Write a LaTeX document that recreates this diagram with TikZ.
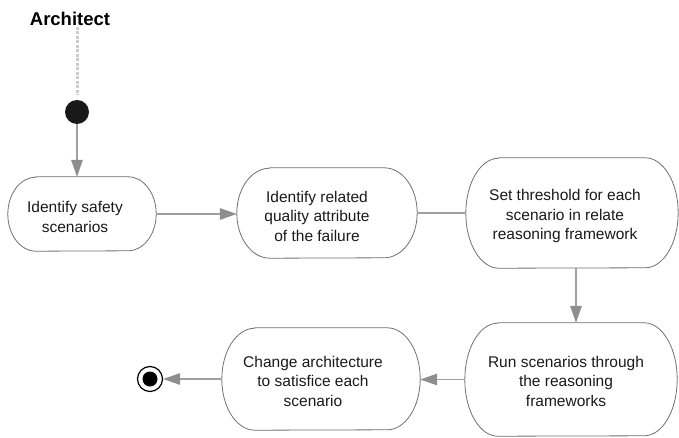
\documentclass[tikz,border=0pt]{standalone}
\usepackage{fontspec}
\setmainfont{Liberation Sans}
\usetikzlibrary{arrows.meta,calc}
\definecolor{lncol}{HTML}{A0A0A0}
\definecolor{tipcol}{HTML}{8E8E8E}
\definecolor{outcol}{HTML}{707070}
\definecolor{lanecol}{HTML}{CCCCCC}
\tikzset{
  box/.style={rectangle, draw=none, inner sep=0pt},
  outl/.style={draw=outcol, line width=0.8pt},
  txt/.style={align=center, inner sep=0pt, font=\fontsize{15.5pt}{19.5pt}\selectfont, text=black!90},
  flow/.style={draw=lncol, line width=1.3pt},
  flowarr/.style={flow, -{Triangle[length=17pt,width=11.5pt,color=tipcol]}},
  lanedash/.style={draw=lanecol, line width=3pt, dash pattern=on 3pt off 1.5pt},
}
\newcommand\stadium[3]{%
  \draw[outl] ([xshift=#2]#1.north west) -- ([xshift=-#2]#1.north east)
     arc[start angle=90,end angle=-90,x radius=#2,y radius=#3]
     -- ([xshift=#2]#1.south west)
     arc[start angle=270,end angle=90,x radius=#2,y radius=#3] -- cycle;}
\begin{document}
\begin{tikzpicture}[x=1pt,y=1pt]
\useasboundingbox (0,0) rectangle (679,437);
% swimlane header
\node[font=\bfseries\fontsize{18.5pt}{22pt}\selectfont, inner sep=0pt] (lane) at (70,418) {Architect};
\coordinate (lanebot) at (77,410);
% start
\node[circle, fill=black!90, inner sep=0pt, minimum size=24pt] (start) at (77,325) {};
\draw[lanedash] (lanebot) -- ([yshift=5pt]start.north);
% activity shapes
\node[box, minimum width=148pt, minimum height=74pt] (n1) at (82,223) {};
\node[box, minimum width=180pt, minimum height=90pt] (n2) at (327,224) {};
\node[box, minimum width=212pt, minimum height=110pt] (n3) at (572,224) {};
\node[box, minimum width=212pt, minimum height=113pt] (n4) at (571,57.5) {};
\node[box, minimum width=198pt, minimum height=102pt] (n5) at (321,58) {};
\stadium{n1}{28pt}{37pt}
\stadium{n2}{33pt}{45pt}
\stadium{n3}{33pt}{55pt}
\stadium{n4}{33pt}{56.5pt}
\stadium{n5}{33pt}{51pt}
% texts
\node[txt] (t1) at (75,220) {Identify safety\\scenarios};
\node[txt] (t2) at (317,221) {Identify related\\quality attribute\\of the failure};
\node[txt] (t3) at (565,221) {Set threshold for each\\scenario in relate\\reasoning framework};
\node[txt] (t4) at (566,56) {Run scenarios through\\the reasoning\\frameworks};
\node[txt] (t5) at (313,56) {Change architecture\\to satisfice each\\scenario};
% final
\node[circle, draw=black, line width=1.2pt, fill=white, inner sep=0pt, minimum size=25pt] (fin) at (150,58) {};
\node[circle, fill=black, inner sep=0pt, minimum size=15pt] (fini) at (fin.center) {};
% connectors
\draw[flowarr] (start.south) -- (start.south |- n1.north);
\draw[flowarr] (n1.east) -- (n1.east -| n2.west);
\draw[flow] (n2.east) -- (n2.east -| n3.west);
\draw[flowarr] ([xshift=4pt]n3.south) -- ([xshift=4pt]n3.south |- n4.north);
\draw[flowarr] (n4.west) -- (n4.west -| n5.east);
\draw[flowarr] (n5.west) -- (fin.east);
\end{tikzpicture}
\end{document}
